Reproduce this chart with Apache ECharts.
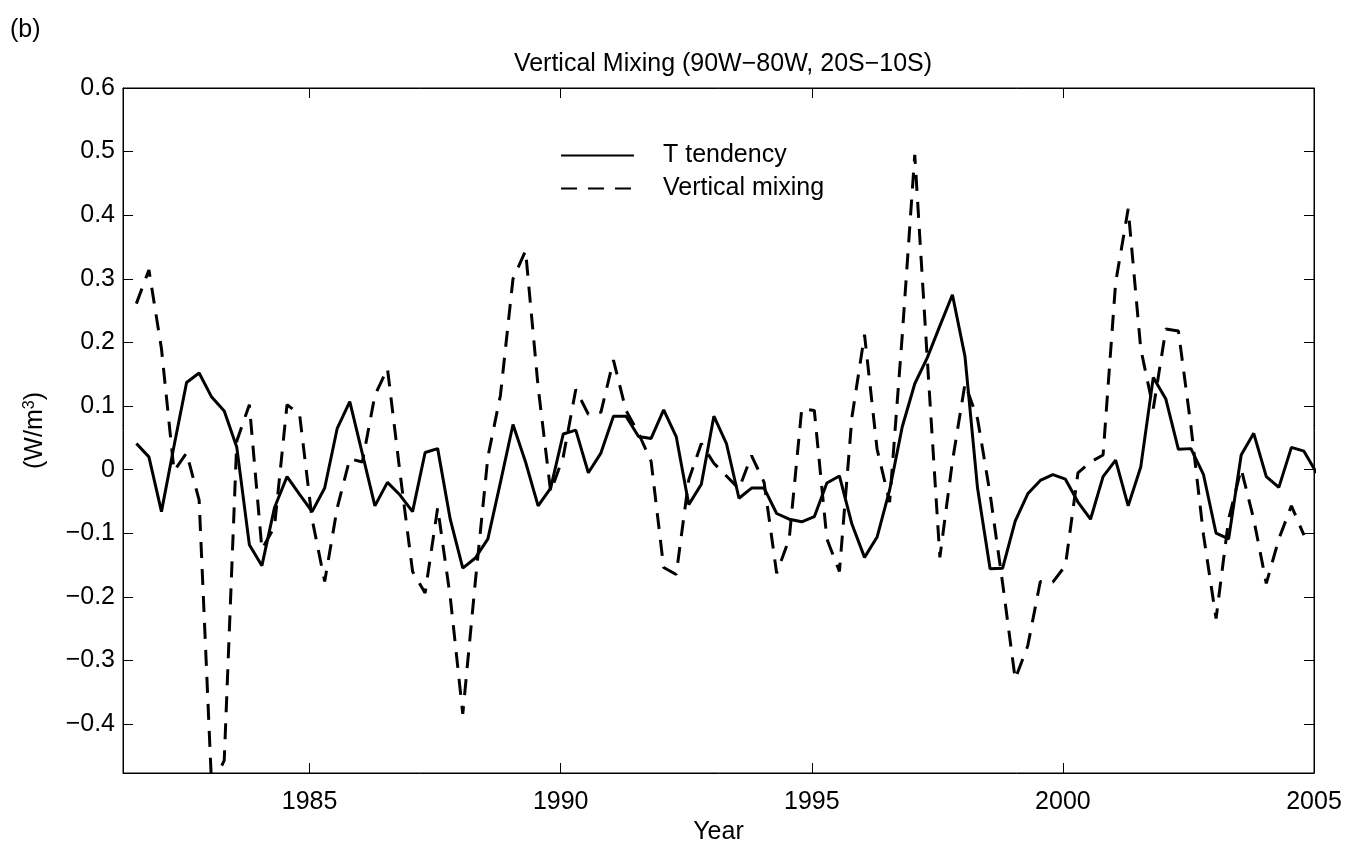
<!DOCTYPE html>
<html>
<head>
<meta charset="utf-8">
<script src="https://cdn.jsdelivr.net/npm/echarts@6/dist/echarts.min.js"></script>
<style>
html,body{margin:0;padding:0;background:#fff;}
#chart{width:1345px;height:842px;}
</style>
</head>
<body>
<div id="chart"></div>
<script>
// ---- data (quarterly time grid) ----
const years = [
  1981.55,1981.80,
  1982.05,1982.30,1982.55,1982.80,
  1983.05,1983.30,1983.55,1983.80,
  1984.05,1984.30,1984.55,1984.80,
  1985.05,1985.30,1985.55,1985.80,
  1986.05,1986.30,1986.55,1986.80,
  1987.05,1987.30,1987.55,1987.80,
  1988.05,1988.30,1988.55,1988.80,
  1989.05,1989.30,1989.55,1989.80,
  1990.05,1990.30,1990.55,1990.80,
  1991.05,1991.30,1991.55,1991.80,
  1992.05,1992.30,1992.55,1992.80,
  1993.05,1993.30,1993.55,1993.80,
  1994.05,1994.30,1994.55,1994.80,
  1995.05,1995.30,1995.55,1995.80,
  1996.05,1996.30,1996.55,1996.80,
  1997.05,1997.30,1997.55,1997.80,
  1998.05,1998.30,1998.55,1998.80,
  1999.05,1999.30,1999.55,1999.80,
  2000.05,2000.30,2000.55,2000.80,
  2001.05,2001.30,2001.55,2001.80,
  2002.05,2002.30,2002.55,2002.80,
  2003.05,2003.30,2003.55,2003.80,
  2004.05,2004.30,2004.55,2004.80,
  2005.05
];

const tTendency = [
  0.041,0.020,
  -0.066,0.037,0.137,0.152,
  0.114,0.092,0.035,-0.118,
  -0.151,-0.060,-0.011,-0.039,
  -0.066,-0.029,0.065,0.107,
  0.025,-0.057,-0.020,-0.040,
  -0.066,0.027,0.033,-0.078,
  -0.155,-0.139,-0.109,-0.020,
  0.071,0.012,-0.057,-0.029,
  0.056,0.062,-0.005,0.026,
  0.084,0.084,0.052,0.049,
  0.094,0.052,-0.055,-0.023,
  0.084,0.041,-0.045,-0.029,
  -0.029,-0.069,-0.078,-0.082,
  -0.074,-0.021,-0.010,-0.086,
  -0.138,-0.106,-0.032,0.067,
  0.135,0.176,0.226,0.275,
  0.178,-0.029,-0.156,-0.155,
  -0.081,-0.038,-0.017,-0.008,
  -0.015,-0.051,-0.078,-0.011,
  0.015,-0.057,0.004,0.145,
  0.111,0.032,0.033,-0.008,
  -0.100,-0.109,0.023,0.057,
  -0.011,-0.028,0.035,0.029,
  -0.005
];

const verticalMixing = [
  0.261,0.314,
  0.190,-0.002,0.026,-0.048,
  -0.500,-0.457,0.045,0.102,
  -0.125,-0.090,0.102,0.087,
  -0.078,-0.176,-0.060,0.017,
  0.012,0.117,0.159,-0.005,
  -0.160,-0.194,-0.060,-0.200,
  -0.384,-0.176,0.020,0.117,
  0.300,0.344,0.130,-0.035,
  0.020,0.126,0.087,0.090,
  0.172,0.093,0.057,0.013,
  -0.154,-0.165,-0.016,0.041,
  0.010,-0.010,-0.030,0.022,
  -0.020,-0.163,-0.109,0.096,
  0.093,-0.109,-0.160,0.083,
  0.212,0.032,-0.051,0.210,
  0.495,0.173,-0.138,0.013,
  0.135,0.080,-0.038,-0.179,
  -0.329,-0.277,-0.176,-0.177,
  -0.151,-0.005,0.012,0.023,
  0.294,0.410,0.190,0.096,
  0.221,0.218,0.068,-0.103,
  -0.234,-0.078,0.001,-0.078,
  -0.179,-0.109,-0.057,-0.103,
  null
];

const xTicks = [1985, 1990, 1995, 2000, 2005];
const yTicks = [-0.4, -0.3, -0.2, -0.1, 0, 0.1, 0.2, 0.3, 0.4, 0.5, 0.6];
const xRange = [1981.284, 2005];
const yRange = [-0.477, 0.6];

const seriesNames = ['T tendency', 'Vertical mixing'];
const titleText = 'Vertical Mixing (90W\u221280W, 20S\u221210S)';
const panelLabel = '(b)';

// ---- chart ----
const FONT = 'Liberation Sans, Arial, Helvetica, sans-serif';
const FS = 25;
const pair = (xs, ys) => xs.map((x, i) => [x, ys[i]]);
const yFmt = v => (Math.abs(v) < 1e-9 ? '0' : (v < 0 ? '\u2212' : '') + Math.abs(v).toFixed(1));

const chart = echarts.init(document.getElementById('chart'), null, {renderer: 'canvas'});

const baseAxisLine = {show: true, onZero: false, lineStyle: {color: '#000', width: 1}};

chart.setOption({
  animation: false,
  backgroundColor: '#fff',
  textStyle: {fontFamily: FONT, color: '#000'},
  title: [
    {text: titleText, left: 718, top: 47, textAlign: 'center',
     textStyle: {fontFamily: FONT, fontSize: FS, fontWeight: 'normal', color: '#000'}},
    {text: panelLabel, left: 5, top: 13,
     textStyle: {fontFamily: FONT, fontSize: FS, fontWeight: 'normal', color: '#000'}}
  ],
  legend: {
    data: seriesNames,
    orient: 'vertical',
    left: 555,
    top: 138,
    itemWidth: 73,
    itemHeight: 14,
    itemGap: 8,
    itemStyle: {opacity: 0, color: 'rgba(0,0,0,0)', borderWidth: 0},
    textStyle: {fontFamily: FONT, fontSize: FS, color: '#000', lineHeight: 24, padding: [0, 0, 0, 24]},
    selectedMode: false
  },
  grid: {
    left: 123, right: 31, top: 88, bottom: 69,
    containLabel: false,
    outerBoundsMode: 'none',
    show: true, borderColor: '#000', borderWidth: 1, backgroundColor: '#fff'
  },
  xAxis: [
    {
      type: 'value', min: xRange[0], max: xRange[1], position: 'bottom',
      axisLine: baseAxisLine,
      axisTick: {show: true, inside: true, length: 10, customValues: xTicks, lineStyle: {color: '#000'}},
      axisLabel: {show: true, customValues: xTicks, formatter: v => String(Math.round(v)),
                  fontFamily: FONT, fontSize: FS, color: '#000', margin: 17, hideOverlap: false},
      splitLine: {show: false},
      name: 'Year', nameLocation: 'middle', nameGap: 45,
      nameTextStyle: {fontFamily: FONT, fontSize: FS, color: '#000'}
    },
    {
      type: 'value', min: xRange[0], max: xRange[1], position: 'top',
      axisLine: baseAxisLine,
      axisTick: {show: true, inside: true, length: 10, customValues: xTicks, lineStyle: {color: '#000'}},
      axisLabel: {show: false},
      splitLine: {show: false}
    }
  ],
  yAxis: [
    {
      type: 'value', min: yRange[0], max: yRange[1], position: 'left',
      axisLine: baseAxisLine,
      axisTick: {show: true, inside: true, length: 10, customValues: yTicks, lineStyle: {color: '#000'}},
      axisLabel: {show: true, customValues: yTicks, formatter: yFmt,
                  fontFamily: FONT, fontSize: FS, color: '#000', margin: 8, hideOverlap: false},
      splitLine: {show: false},
      name: '{a|(W/m}{s|3}{a|)}', nameLocation: 'middle', nameGap: 74, nameRotate: 90,
      nameTextStyle: {
        fontFamily: FONT, fontSize: FS, color: '#000',
        rich: {
          a: {fontFamily: FONT, fontSize: FS, color: '#000', lineHeight: 27},
          s: {fontFamily: FONT, fontSize: 16, color: '#000', lineHeight: 27, verticalAlign: 'top'}
        }
      }
    },
    {
      type: 'value', min: yRange[0], max: yRange[1], position: 'right',
      axisLine: baseAxisLine,
      axisTick: {show: true, inside: true, length: 10, customValues: yTicks, lineStyle: {color: '#000'}},
      axisLabel: {show: false},
      splitLine: {show: false}
    }
  ],
  series: [
    {
      name: seriesNames[0], type: 'line', xAxisIndex: 0, yAxisIndex: 0,
      data: pair(years, tTendency), symbol: 'none', clip: true, connectNulls: false,
      lineStyle: {color: '#000', width: 3, type: 'solid'},
      itemStyle: {color: '#000'}
    },
    {
      name: seriesNames[1], type: 'line', xAxisIndex: 0, yAxisIndex: 0,
      data: pair(years, verticalMixing), symbol: 'none', clip: true, connectNulls: false,
      lineStyle: {color: '#000', width: 3, type: [16, 11]},
      itemStyle: {color: '#000'}
    }
  ]
});
</script>
</body>
</html>
